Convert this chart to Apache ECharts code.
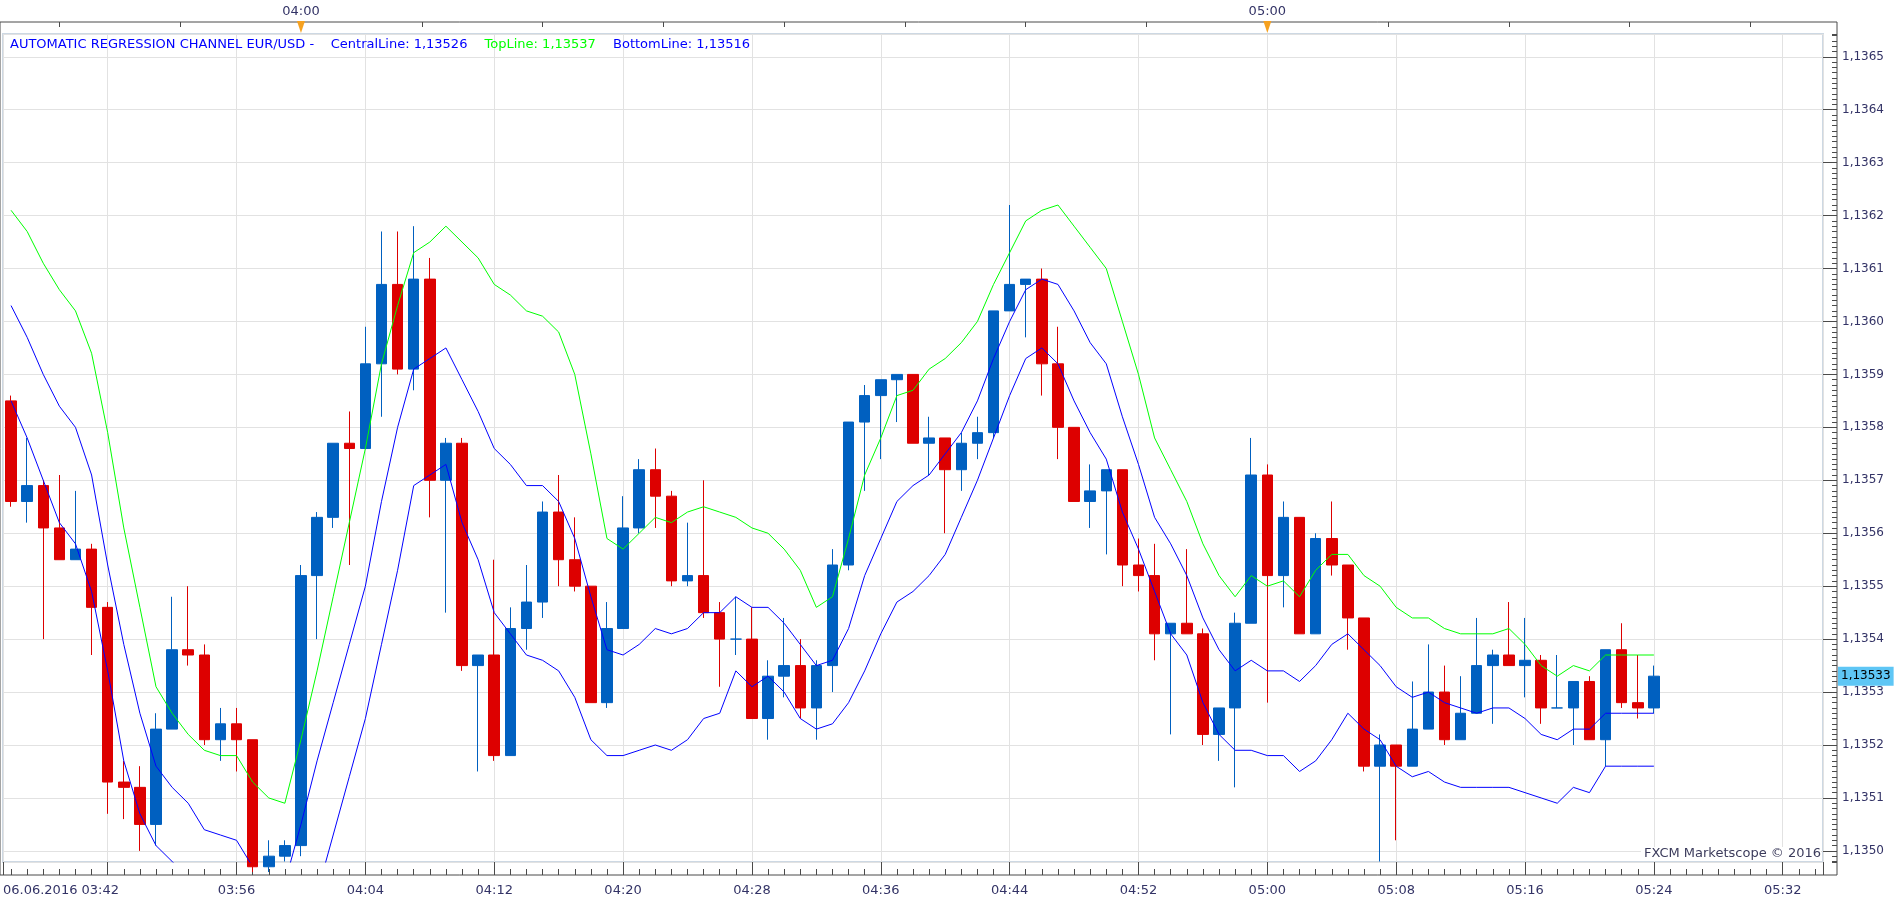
<!DOCTYPE html>
<html>
<head>
<meta charset="utf-8">
<title>EUR/USD regression channel</title>
<script src="https://cdn.jsdelivr.net/npm/echarts@6.0.0/dist/echarts.min.js"></script>
<style>
html, body { margin: 0; padding: 0; background: #fff; }
#main { width: 1903px; height: 905px; }
</style>
</head>
<body>
<div id="main"></div>
<script>
// EUR/USD, 1 minute bars 06.06.2016 03:42 .. 05:24
var openPrices = [
	1.13585, 1.13566, 1.13569, 1.13561, 1.13555, 1.13557, 1.13546, 1.13513, 1.13512, 1.13505,
	1.13523, 1.13538, 1.13537, 1.13521, 1.13524, 1.13521, 1.13497, 1.13499, 1.13501, 1.13552,
	1.13563, 1.13577, 1.13576, 1.13592, 1.13607, 1.13591, 1.13608, 1.13570, 1.13577, 1.13535,
	1.13537, 1.13518, 1.13542, 1.13547, 1.13564, 1.13555, 1.13550, 1.13528, 1.13542, 1.13561,
	1.13572, 1.13567, 1.13551, 1.13552, 1.13545, 1.13540, 1.13540, 1.13525, 1.13533, 1.13535,
	1.13527, 1.13535, 1.13554, 1.13581, 1.13586, 1.13589, 1.13590, 1.13577, 1.13578, 1.13572,
	1.13577, 1.13579, 1.13602, 1.13607, 1.13608, 1.13592, 1.13580, 1.13566, 1.13568, 1.13572,
	1.13554, 1.13552, 1.13541, 1.13543, 1.13541, 1.13522, 1.13527, 1.13543, 1.13571, 1.13552,
	1.13563, 1.13541, 1.13559, 1.13554, 1.13544, 1.13516, 1.13520, 1.13516, 1.13523, 1.13530,
	1.13521, 1.13526, 1.13535, 1.13537, 1.13535, 1.13536, 1.13527, 1.13527, 1.13532, 1.13521,
	1.13538, 1.13528, 1.13527
];
var closePrices = [
	1.13566, 1.13569, 1.13561, 1.13555, 1.13557, 1.13546, 1.13513, 1.13512, 1.13505, 1.13523,
	1.13538, 1.13537, 1.13521, 1.13524, 1.13521, 1.13497, 1.13499, 1.13501, 1.13552, 1.13563,
	1.13577, 1.13576, 1.13592, 1.13607, 1.13591, 1.13608, 1.13570, 1.13577, 1.13535, 1.13537,
	1.13518, 1.13542, 1.13547, 1.13564, 1.13555, 1.13550, 1.13528, 1.13542, 1.13561, 1.13572,
	1.13567, 1.13551, 1.13552, 1.13545, 1.13540, 1.13540, 1.13525, 1.13533, 1.13535, 1.13527,
	1.13535, 1.13554, 1.13581, 1.13586, 1.13589, 1.13590, 1.13577, 1.13578, 1.13572, 1.13577,
	1.13579, 1.13602, 1.13607, 1.13608, 1.13592, 1.13580, 1.13566, 1.13568, 1.13572, 1.13554,
	1.13552, 1.13541, 1.13543, 1.13541, 1.13522, 1.13527, 1.13543, 1.13571, 1.13552, 1.13563,
	1.13541, 1.13559, 1.13554, 1.13544, 1.13516, 1.13520, 1.13516, 1.13523, 1.13530, 1.13521,
	1.13526, 1.13535, 1.13537, 1.13535, 1.13536, 1.13527, 1.13527, 1.13532, 1.13521, 1.13538,
	1.13528, 1.13527, 1.13533
];
var lowPrices = [
	1.13565, 1.13562, 1.13540, 1.13555, 1.13555, 1.13537, 1.13507, 1.13506, 1.13500, 1.13501,
	1.13523, 1.13535, 1.13520, 1.13517, 1.13515, 1.13496, 1.13496, 1.13498, 1.13499, 1.13540,
	1.13561, 1.13554, 1.13576, 1.13582, 1.13590, 1.13587, 1.13563, 1.13545, 1.13534, 1.13515,
	1.13517, 1.13518, 1.13538, 1.13544, 1.13550, 1.13549, 1.13528, 1.13527, 1.13542, 1.13560,
	1.13561, 1.13550, 1.13550, 1.13544, 1.13531, 1.13537, 1.13525, 1.13521, 1.13529, 1.13525,
	1.13521, 1.13530, 1.13553, 1.13568, 1.13574, 1.13581, 1.13577, 1.13571, 1.13560, 1.13568,
	1.13574, 1.13578, 1.13602, 1.13597, 1.13586, 1.13574, 1.13566, 1.13561, 1.13556, 1.13550,
	1.13549, 1.13536, 1.13522, 1.13541, 1.13520, 1.13517, 1.13512, 1.13543, 1.13528, 1.13546,
	1.13541, 1.13541, 1.13552, 1.13538, 1.13515, 1.13498, 1.13502, 1.13516, 1.13523, 1.13520,
	1.13521, 1.13526, 1.13524, 1.13535, 1.13529, 1.13524, 1.13527, 1.13520, 1.13521, 1.13516,
	1.13527, 1.13525, 1.13526
];
var highPrices = [
	1.13586, 1.13578, 1.13570, 1.13571, 1.13568, 1.13558, 1.13547, 1.13517, 1.13516, 1.13526,
	1.13548, 1.13550, 1.13539, 1.13527, 1.13527, 1.13521, 1.13502, 1.13502, 1.13554, 1.13564,
	1.13577, 1.13583, 1.13599, 1.13617, 1.13617, 1.13618, 1.13612, 1.13578, 1.13578, 1.13537,
	1.13555, 1.13546, 1.13554, 1.13566, 1.13571, 1.13563, 1.13550, 1.13547, 1.13567, 1.13574,
	1.13576, 1.13568, 1.13562, 1.13570, 1.13547, 1.13548, 1.13546, 1.13536, 1.13544, 1.13540,
	1.13536, 1.13557, 1.13581, 1.13588, 1.13589, 1.13590, 1.13590, 1.13582, 1.13578, 1.13579,
	1.13582, 1.13602, 1.13622, 1.13608, 1.13610, 1.13599, 1.13580, 1.13573, 1.13572, 1.13572,
	1.13559, 1.13558, 1.13543, 1.13557, 1.13542, 1.13527, 1.13545, 1.13578, 1.13573, 1.13566,
	1.13563, 1.13560, 1.13566, 1.13554, 1.13544, 1.13522, 1.13520, 1.13532, 1.13539, 1.13535,
	1.13533, 1.13544, 1.13538, 1.13547, 1.13544, 1.13537, 1.13537, 1.13532, 1.13533, 1.13538,
	1.13543, 1.13537, 1.13535
];

// regression channel lines
var topLine = [
	1.13621, 1.13617, 1.13611, 1.13606, 1.13602, 1.13594, 1.13579, 1.13561, 1.13546, 1.13531,
	1.13526, 1.13522, 1.13519, 1.13518, 1.13518, 1.13513, 1.13510, 1.13509, 1.13521, 1.13534,
	1.13548, 1.13562, 1.13576, 1.13592, 1.13603, 1.13613, 1.13615, 1.13618, 1.13615, 1.13612,
	1.13607, 1.13605, 1.13602, 1.13601, 1.13598, 1.13590, 1.13575, 1.13559, 1.13557, 1.13560,
	1.13563, 1.13562, 1.13564, 1.13565, 1.13564, 1.13563, 1.13561, 1.13560, 1.13557, 1.13553,
	1.13546, 1.13548, 1.13559, 1.13571, 1.13578, 1.13586, 1.13587, 1.13591, 1.13593, 1.13596,
	1.13600, 1.13607, 1.13613, 1.13619, 1.13621, 1.13622, 1.13618, 1.13614, 1.13610, 1.13600,
	1.13590, 1.13578, 1.13572, 1.13566, 1.13558, 1.13552, 1.13548, 1.13552, 1.13550, 1.13551,
	1.13548, 1.13553, 1.13556, 1.13556, 1.13552, 1.13550, 1.13546, 1.13544, 1.13544, 1.13542,
	1.13541, 1.13541, 1.13541, 1.13542, 1.13539, 1.13535, 1.13533, 1.13535, 1.13534, 1.13537,
	1.13537, 1.13537, 1.13537
];
var centralLine = [
	1.13603, 1.13597, 1.13590, 1.13584, 1.13580, 1.13571, 1.13554, 1.13539, 1.13526, 1.13516,
	1.13512, 1.13509, 1.13504, 1.13503, 1.13502, 1.13497, 1.13494, 1.13494, 1.13505, 1.13517,
	1.13528, 1.13539, 1.13550, 1.13566, 1.13580, 1.13591, 1.13593, 1.13595, 1.13589, 1.13583,
	1.13576, 1.13573, 1.13569, 1.13569, 1.13566, 1.13559, 1.13548, 1.13538, 1.13537, 1.13539,
	1.13542, 1.13541, 1.13542, 1.13545, 1.13545, 1.13548, 1.13546, 1.13546, 1.13543, 1.13539,
	1.13535, 1.13536, 1.13542, 1.13552, 1.13559, 1.13566, 1.13569, 1.13571, 1.13575, 1.13579,
	1.13585, 1.13593, 1.13600, 1.13606, 1.13608, 1.13607, 1.13602, 1.13596, 1.13592, 1.13582,
	1.13573, 1.13563, 1.13558, 1.13552, 1.13544, 1.13538, 1.13534, 1.13536, 1.13534, 1.13534,
	1.13532, 1.13535, 1.13539, 1.13541, 1.13538, 1.13535, 1.13531, 1.13529, 1.13530, 1.13528,
	1.13527, 1.13526, 1.13527, 1.13527, 1.13525, 1.13522, 1.13521, 1.13523, 1.13523, 1.13526,
	1.13526, 1.13526, 1.13526
];
var bottomLine = [
	1.13585, 1.13578, 1.13570, 1.13562, 1.13558, 1.13549, 1.13534, 1.13517, 1.13507, 1.13501,
	1.13498, 1.13495, 1.13490, 1.13487, 1.13487, 1.13482, 1.13478, 1.13479, 1.13489, 1.13492,
	1.13503, 1.13514, 1.13525, 1.13539, 1.13553, 1.13569, 1.13571, 1.13573, 1.13562, 1.13555,
	1.13545, 1.13541, 1.13537, 1.13536, 1.13534, 1.13529, 1.13521, 1.13518, 1.13518, 1.13519,
	1.13520, 1.13519, 1.13521, 1.13525, 1.13526, 1.13534, 1.13531, 1.13533, 1.13530, 1.13525,
	1.13523, 1.13524, 1.13528, 1.13534, 1.13541, 1.13547, 1.13549, 1.13552, 1.13556, 1.13563,
	1.13570, 1.13578, 1.13586, 1.13593, 1.13595, 1.13592, 1.13585, 1.13579, 1.13574, 1.13564,
	1.13557, 1.13549, 1.13541, 1.13537, 1.13528, 1.13522, 1.13519, 1.13519, 1.13518, 1.13518,
	1.13515, 1.13517, 1.13521, 1.13526, 1.13523, 1.13521, 1.13516, 1.13514, 1.13515, 1.13513,
	1.13512, 1.13512, 1.13512, 1.13512, 1.13511, 1.13510, 1.13509, 1.13512, 1.13511, 1.13516,
	1.13516, 1.13516, 1.13516
];

// time axis: one slot per minute from 03:42 to 05:34
var startMinute = 3 * 60 + 42;
var slotCount = 113;
var hourMarks = [0, 60];          // minutes after 04:00 that get a marker
var dateLabel = '06.06.2016';

function pad(n) {
	return n < 10 ? '0' + n : '' + n;
}
var timeLabels = [];
for (var m = 0; m < slotCount; m++) {
	var t = startMinute + m;
	timeLabels.push(pad(Math.floor(t / 60)) + ':' + pad(t % 60));
}

function fmtPrice(v, digits) {
	return v.toFixed(digits).replace('.', ',');
}

var candleData = [];
for (var i = 0; i < openPrices.length; i++) {
	candleData.push([openPrices[i], closePrices[i], lowPrices[i], highPrices[i]]);
}
var last = openPrices.length - 1;

var FONT = 'DejaVu Sans';
var LABEL_COLOR = '#333366';
var AXIS_COLOR = '#4a4a4a';
var noLine = { show: false, onZero: false };

var chart = echarts.init(document.getElementById('main'));

var option = {
	animation: false,
	backgroundColor: '#ffffff',
	textStyle: { fontFamily: FONT },
	title: [{
		left: 10,
		top: 36,
		padding: 0,
		text: '{a|AUTOMATIC REGRESSION CHANNEL EUR/USD -    CentralLine: ' + fmtPrice(centralLine[last], 5) +
			'}   {b|TopLine: ' + fmtPrice(topLine[last], 5) +
			'}   {a|BottomLine: ' + fmtPrice(bottomLine[last], 5) + '}',
		textStyle: {
			fontFamily: FONT,
			fontWeight: 'normal',
			rich: {
				a: { color: '#0000ff', fontSize: 13, fontFamily: FONT },
				b: { color: '#00ff00', fontSize: 13, fontFamily: FONT }
			}
		}
	}, {
		right: 82,
		top: 847,
		padding: [0, 0, 1, 3],
		backgroundColor: '#ffffff',
		text: 'FXCM Marketscope © 2016',
		textStyle: { fontFamily: FONT, fontWeight: 'normal', fontSize: 13, color: '#3c3c5c' }
	}],
	grid: [{
		left: 0,
		right: 80,
		top: 34,
		bottom: 43,
		show: true,
		borderColor: '#cdd8e3',
		borderWidth: 2
	}, {
		// outer dark frame
		left: -2,
		right: 66,
		top: 22,
		bottom: 30,
		show: true,
		borderColor: AXIS_COLOR,
		borderWidth: 1
	}],
	xAxis: [{
		// one slot per minute, carries the data and the short ticks
		type: 'category',
		gridIndex: 0,
		data: timeLabels,
		boundaryGap: true,
		position: 'bottom',
		offset: 13,
		axisLine: noLine,
		axisTick: { show: true, inside: true, length: 6, interval: 0, alignWithLabel: true, lineStyle: { color: AXIS_COLOR } },
		axisLabel: { show: false },
		splitLine: { show: false }
	}, {
		// minutes after 03:48: grid lines, long ticks, labels
		type: 'value',
		gridIndex: 0,
		position: 'bottom',
		min: -6.5,
		max: slotCount - 6.5,
		minInterval: 8,
		maxInterval: 8,
		offset: 13,
		axisLine: noLine,
		axisTick: { show: true, inside: true, length: 13, lineStyle: { color: AXIS_COLOR } },
		axisLabel: {
			show: true,
			margin: 9,
			fontSize: 13,
			fontFamily: FONT,
			color: LABEL_COLOR,
			showMinLabel: true,
			showMaxLabel: true,
			alignMinLabel: 'left',
			formatter: function(v) {
				if (v < 0) {
					return dateLabel + ' ' + timeLabels[0];
				}
				if (v === 0 || v % 8 !== 0) {
					return '';
				}
				return timeLabels[v + 6];
			}
		},
		splitLine: { show: true, lineStyle: { color: '#e2e2e2', width: 1 } }
	}, {
		// minutes after 04:00: top hour scale
		type: 'value',
		gridIndex: 0,
		position: 'top',
		min: -18.5,
		max: slotCount - 18.5,
		minInterval: 7.5,
		maxInterval: 7.5,
		offset: 12,
		axisLine: noLine,
		axisTick: { show: true, inside: true, length: 5, lineStyle: { color: AXIS_COLOR } },
		axisLabel: {
			show: true,
			margin: 4,
			fontSize: 13,
			fontFamily: FONT,
			color: LABEL_COLOR,
			showMinLabel: false,
			showMaxLabel: false,
			formatter: function(v) {
				if (v % 60 !== 0) {
					return '';
				}
				return timeLabels[v + 18];
			}
		},
		splitLine: { show: false }
	}],
	yAxis: [{
		type: 'value',
		gridIndex: 0,
		position: 'right',
		min: 1.134979,
		max: 1.136543,
		minInterval: 0.0001,
		maxInterval: 0.0001,
		offset: 14,
		axisLine: noLine,
		axisTick: { show: true, inside: true, length: 14, lineStyle: { color: AXIS_COLOR } },
		axisLabel: {
			show: true,
			margin: 5,
			fontSize: 12,
			fontFamily: FONT,
			color: LABEL_COLOR,
			showMinLabel: false,
			showMaxLabel: false,
			formatter: function(v) {
				var k = Math.round(v * 10000);
				if (Math.abs(v * 10000 - k) > 1e-6) {
					return '';
				}
				return fmtPrice(v, 4);
			}
		},
		splitLine: { show: true, lineStyle: { color: '#e2e2e2', width: 1 } }
	}, {
		// small ticks every 0.00001
		type: 'value',
		gridIndex: 0,
		position: 'right',
		min: 1.134979,
		max: 1.136543,
		minInterval: 0.00001,
		maxInterval: 0.00001,
		offset: 14,
		axisLine: noLine,
		axisTick: { show: true, inside: true, length: 5, lineStyle: { color: AXIS_COLOR } },
		axisLabel: { show: false },
		splitLine: { show: false }
	}],
	series: [{
		name: 'EUR/USD',
		type: 'candlestick',
		xAxisIndex: 0,
		yAxisIndex: 0,
		barWidth: 11,
		data: candleData,
		itemStyle: {
			color: '#0060c0',
			color0: '#dd0000',
			borderColor: '#0060c0',
			borderColor0: '#dd0000',
			borderColorDoji: '#0060c0',
			borderWidth: 1
		}
	}, {
		name: 'TopLine',
		type: 'line',
		xAxisIndex: 0,
		yAxisIndex: 0,
		data: topLine,
		showSymbol: false,
		lineStyle: { color: '#00ff00', width: 1 }
	}, {
		name: 'CentralLine',
		type: 'line',
		xAxisIndex: 0,
		yAxisIndex: 0,
		data: centralLine,
		showSymbol: false,
		lineStyle: { color: '#0000ff', width: 1 }
	}, {
		name: 'BottomLine',
		type: 'line',
		xAxisIndex: 0,
		yAxisIndex: 0,
		data: bottomLine,
		showSymbol: false,
		lineStyle: { color: '#0000ff', width: 1 }
	}]
};

chart.setOption(option);

// orange hour markers on the top scale, last price tag on the right scale
var extras = [];
for (var h = 0; h < hourMarks.length; h++) {
	var x = chart.convertToPixel({ xAxisIndex: 2 }, hourMarks[h]);
	extras.push({
		type: 'polygon',
		z: 100,
		shape: { points: [[x - 4, 21], [x + 4, 21], [x, 33]] },
		style: { fill: '#f6a11f' }
	});
}
var priceY = chart.convertToPixel({ yAxisIndex: 0 }, closePrices[last]);
extras.push({
	type: 'text',
	z: 100,
	x: 1838,
	y: priceY,
	style: {
		text: fmtPrice(closePrices[last], 5),
		fill: '#000000',
		font: '12px "DejaVu Sans"',
		verticalAlign: 'middle',
		backgroundColor: '#5ec6f5',
		padding: [4, 3, 3, 3]
	}
});
chart.setOption({ graphic: extras });
</script>
</body>
</html>
